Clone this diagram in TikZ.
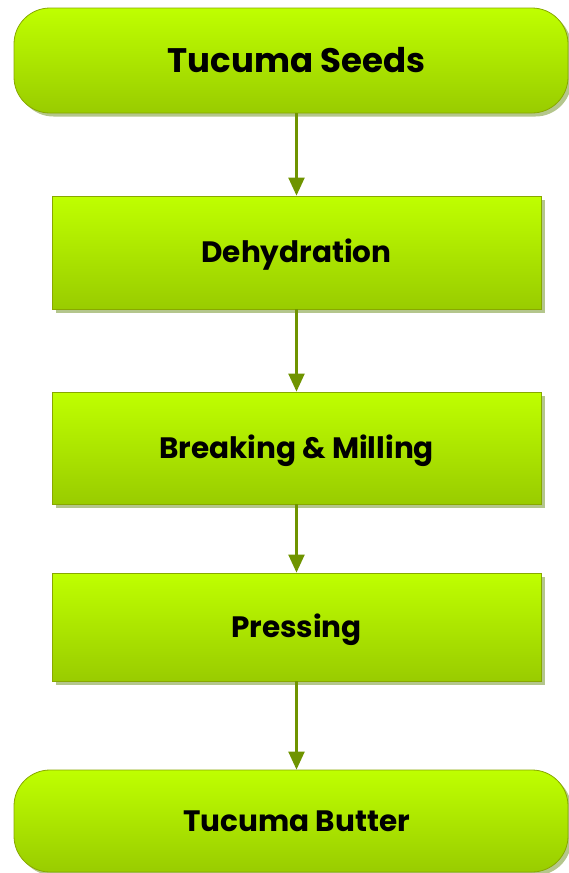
\documentclass[tikz,border=0pt]{standalone}
\usepackage{fontspec}
\setmainfont{Poppins}
\usetikzlibrary{arrows.meta,shadows}
\definecolor{gtop}{HTML}{BFFF00}
\definecolor{gbot}{HTML}{99CC00}
\definecolor{gline}{HTML}{88A800}
\definecolor{gshadow}{HTML}{B4C68C}
\definecolor{garrow}{HTML}{6F9400}
\tikzset{
  flowbase/.style={draw=gline, line width=0.8pt, top color=gtop, bottom color=gbot,
    drop shadow={shadow xshift=3.5pt, shadow yshift=-3.5pt, fill=gshadow, opacity=1},
    inner sep=0pt, font=\bfseries},
  terminal/.style={flowbase, rectangle, rounded corners=36pt, minimum width=554pt, minimum height=105pt},
  process/.style={flowbase, rectangle, minimum width=489pt},
  boxlabel/.style={font=\bfseries\fontsize{29.5}{34}\selectfont, text=black, anchor=base, inner sep=0pt},
  titlelabel/.style={font=\bfseries\fontsize{34}{40}\selectfont, text=black, anchor=base, inner sep=0pt},
  arr/.style={draw=garrow, line width=2.2pt, -{Triangle[width=16pt,length=18pt]}}
}
\begin{document}
\begin{tikzpicture}[x=1pt,y=-1pt]
\useasboundingbox (0,0) rectangle (569,873);
\node[terminal] (seeds) at (291,60.5) {};
\node[titlelabel] (seedsT) at ([xshift=5.5pt,yshift=-12pt]seeds.center) {Tucuma Seeds};
\node[process, minimum height=113pt] (dehyd) at (296.5,252.5) {};
\node[boxlabel] (dehydT) at ([yshift=-10.3pt]dehyd.center) {Dehydration};
\node[process, minimum height=112pt] (break) at (296.5,448) {};
\node[boxlabel] (breakT) at ([yshift=-10.3pt]break.center) {Breaking \& Milling};
\node[process, minimum height=108pt] (press) at (296.5,627) {};
\node[boxlabel] (pressT) at ([yshift=-10.3pt]press.center) {Pressing};
\node[terminal, minimum height=102pt] (butter) at (291,821) {};
\node[boxlabel] (butterT) at ([xshift=5.5pt,yshift=-10.3pt]butter.center) {Tucuma Butter};
\draw[arr] (dehyd.north |- seeds.south) -- (dehyd.north);
\draw[arr] (dehyd.south) -- (break.north);
\draw[arr] (break.south) -- (press.north);
\draw[arr] (press.south) -- (press.south |- butter.north);
\end{tikzpicture}
\end{document}
